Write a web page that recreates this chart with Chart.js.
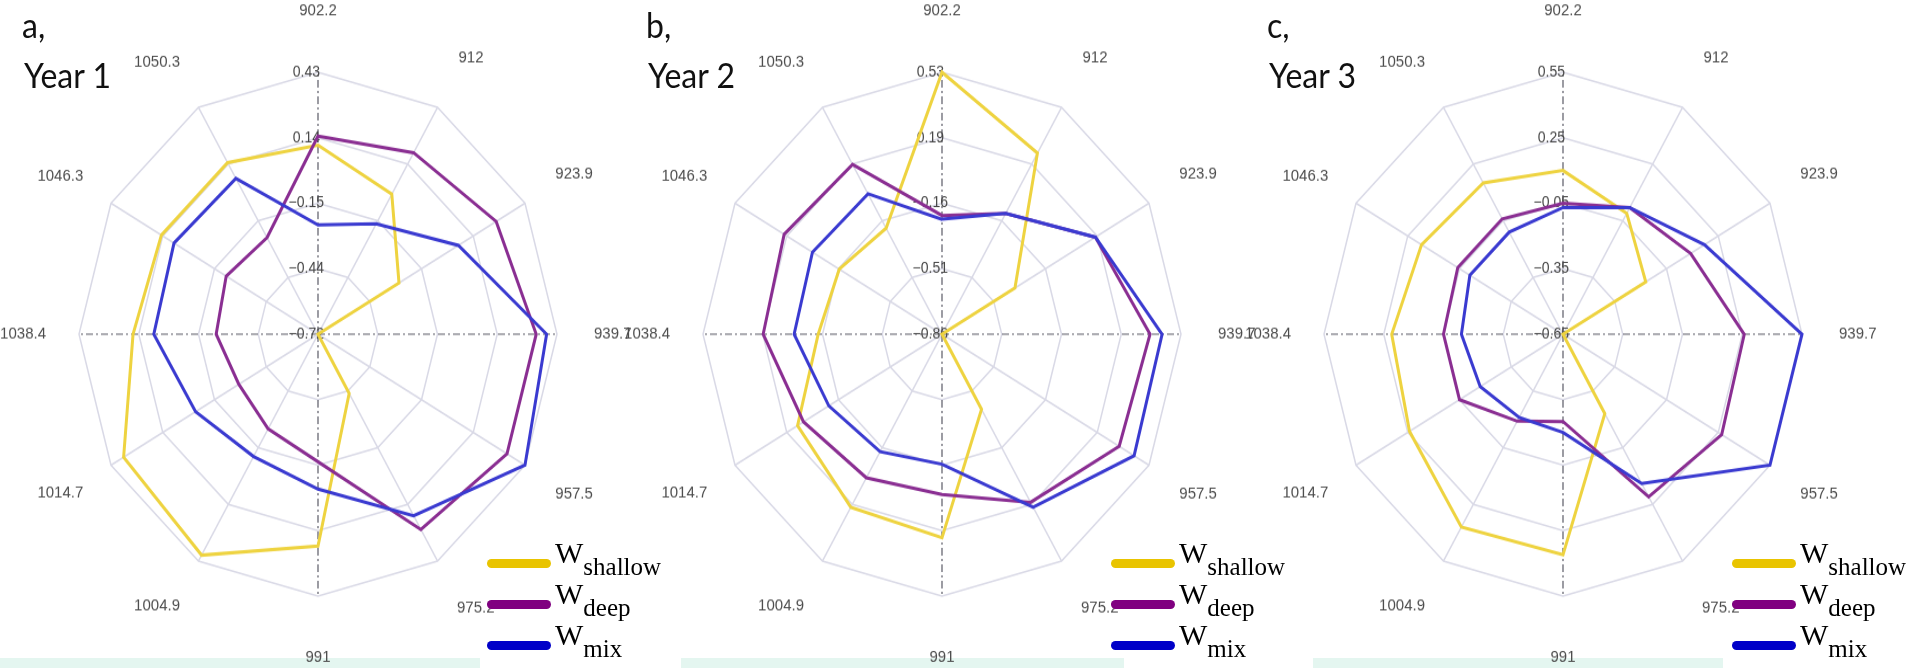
<!DOCTYPE html>
<html>
<head>
<meta charset="utf-8">
<script src="https://cdn.jsdelivr.net/npm/chart.js@4.4.1/dist/chart.umd.min.js"></script>
<style>
  html, body { margin: 0; padding: 0; width: 1907px; height: 668px; overflow: hidden; background: #fff; }
  .band { position: absolute; top: 658px; height: 10px; background: #e4f6f0; }
  .panel { position: absolute; top: 1px; width: 800px; height: 609px; transform: scaleY(1.096); transform-origin: 50% 0; }
  .tag { position: absolute; font-family: Lato, "Open Sans", sans-serif; font-size: 32px; line-height: 32px; color: #111;
         white-space: nowrap; transform: scaleY(1.1); transform-origin: 0 0; z-index: 4; }
  .legend { position: absolute; top: 0; width: 190px; height: 668px; z-index: 5; }
  .row { position: absolute; left: 0; width: 190px; height: 42px; }
  .sw { position: absolute; left: 0; top: 17px; width: 64px; height: 9px; border-radius: 5px; }
  .lt { position: absolute; left: 68px; top: -4px; font-family: "Liberation Serif", "Times New Roman", serif;
        font-size: 30px; line-height: 30px; color: #000; white-space: nowrap; }
  .lt sub { font-size: 25px; vertical-align: -12px; line-height: 0; }
</style>
</head>
<body>
<div class="band" style="left:0;width:480px"></div>
<div class="band" style="left:681px;width:443px"></div>
<div class="band" style="left:1313px;width:410px"></div>
<div id="root"></div>
<script>
  // categories (clockwise from top)
  const categories = ["902.2", "912", "923.9", "939.7", "957.5", "975.2", "991", "1004.9", "1014.7", "1038.4", "1046.3", "1050.3"];

  // Year 1
  const ticksY1 = ["\u22120.72", "\u22120.44", "\u22120.15", "0.14", "0.43"];
  const rangeY1 = [-0.72, 0.43];
  const shallowY1 = [0.11, -0.01, -0.27, -0.72, -0.72, -0.42, 0.21, 0.40, 0.36, 0.17, 0.15, 0.15];
  const deepY1    = [0.15, 0.20, 0.27, 0.33, 0.33, 0.27, -0.16, -0.24, -0.28, -0.23, -0.21, -0.23];
  const mixY1     = [-0.24, -0.16, 0.06, 0.38, 0.43, 0.20, -0.04, -0.10, -0.04, 0.07, 0.08, 0.07];

  // Year 2
  const ticksY2 = ["\u22120.86", "\u22120.51", "\u22120.16", "0.19", "0.53"];
  const rangeY2 = [-0.86, 0.53];
  const shallowY2 = [0.53, 0.25, -0.37, -0.86, -0.86, -0.40, 0.22, 0.20, 0.11, -0.14, -0.17, -0.21];
  const deepY2    = [-0.23, -0.12, 0.17, 0.35, 0.33, 0.17, -0.01, 0.02, 0.07, 0.18, 0.20, 0.18];
  const mixY2     = [-0.25, -0.12, 0.17, 0.42, 0.43, 0.20, -0.17, -0.14, -0.10, 0.00, 0.01, 0.00];

  // Year 3
  const ticksY3 = ["\u22120.65", "\u22120.35", "\u22120.05", "0.25", "0.55"];
  const rangeY3 = [-0.65, 0.55];
  const shallowY3 = [0.10, -0.01, -0.17, -0.65, -0.65, -0.23, 0.36, 0.37, 0.24, 0.21, 0.17, 0.15];
  const deepY3    = [-0.05, 0.02, 0.09, 0.26, 0.27, 0.21, -0.25, -0.19, -0.05, -0.05, -0.04, -0.04];
  const mixY3     = [-0.07, 0.02, 0.17, 0.55, 0.55, 0.14, -0.20, -0.21, -0.17, -0.14, -0.11, -0.11];

  const legendNames = ["shallow", "deep", "mix"];
  const lineColors = ["#eed340", "#8a2e92", "#3a3ad0"];
  const swatchColors = ["#e9c400", "#800080", "#0000c8"];

  const panels = [
    { letter: "a,", year: "Year 1", cx: 318, ticks: ticksY1, range: rangeY1, series: [shallowY1, deepY1, mixY1] },
    { letter: "b,", year: "Year 2", cx: 942, ticks: ticksY2, range: rangeY2, series: [shallowY2, deepY2, mixY2] },
    { letter: "c,", year: "Year 3", cx: 1563, ticks: ticksY3, range: rangeY3, series: [shallowY3, deepY3, mixY3] },
  ];

  const LABEL_FONT = { family: "Liberation Sans", size: 15 };
  const GRID = "#d9d9e6";
  const AXIS = "#5a5a66";

  const measure = document.createElement("canvas").getContext("2d");
  measure.font = "15px 'Liberation Sans'";

  // put every category label's centre at the same distance outside the web
  function labelPadding(c){
    const a = c.index * Math.PI / 6;
    const w = measure.measureText(categories[c.index]).width;
    return Math.round(49 - w / 2 * Math.abs(Math.sin(a)) - 9 * Math.abs(Math.cos(a)));
  }

  const root = document.getElementById("root");

  panels.forEach((p) => {
    const box = document.createElement("div");
    box.className = "panel";
    box.style.left = (p.cx - 400) + "px";
    const cv = document.createElement("canvas");
    box.appendChild(cv);
    root.appendChild(box);

    const isAxis = (c) => c.index % 3 === 0;

    new Chart(cv, {
      type: "radar",
      data: {
        labels: categories,
        datasets: p.series.map((d, i) => ({
          label: "W " + legendNames[i],
          data: d,
          borderColor: lineColors[i],
          backgroundColor: "transparent",
          borderWidth: 3,
          pointRadius: 0,
          fill: false,
          tension: 0,
          order: 3 - i,
        })),
      },
      options: {
        responsive: true,
        maintainAspectRatio: false,
        animation: false,
        events: [],
        layout: { padding: 0 },
        plugins: { legend: { display: false }, tooltip: { enabled: false } },
        scales: {
          r: {
            min: p.range[0],
            max: p.range[1],
            beginAtZero: false,
            ticks: {
              count: 5,
              callback: (v, i) => p.ticks[i] + "\u00a0\u00a0\u00a0\u00a0\u00a0\u00a0",
              font: { family: "Liberation Sans", size: 14 },
              color: "#474747",
              showLabelBackdrop: false,
              backdropPadding: 0,
            },
            grid: { circular: false, color: GRID, lineWidth: 1.5 },
            angleLines: {
              color: (c) => isAxis(c) ? AXIS : GRID,
              lineWidth: (c) => isAxis(c) ? 1.2 : 1.5,
              borderDash: (c) => isAxis(c) ? [7, 3, 2, 3] : [],
            },
            pointLabels: { font: LABEL_FONT, color: "#4d4d4d", padding: labelPadding },
          },
        },
      },
    });

    const t1 = document.createElement("div");
    t1.className = "tag";
    t1.style.left = (p.cx - 296) + "px";
    t1.style.top = "7px";
    t1.textContent = p.letter;
    root.appendChild(t1);

    const t2 = document.createElement("div");
    t2.className = "tag";
    t2.style.left = (p.cx - 294) + "px";
    t2.style.top = "57px";
    t2.textContent = p.year;
    root.appendChild(t2);

    const lg = document.createElement("div");
    lg.className = "legend";
    lg.style.left = (p.cx + 169) + "px";
    let html = "";
    [563, 604, 645].forEach((y, i) => {
      html += `<div class="row" style="top:${y - 21}px"><div class="sw" style="background:${swatchColors[i]}"></div>` +
              `<div class="lt">W<sub>${legendNames[i]}</sub></div></div>`;
    });
    lg.innerHTML = html;
    root.appendChild(lg);
  });
</script>
</body>
</html>
